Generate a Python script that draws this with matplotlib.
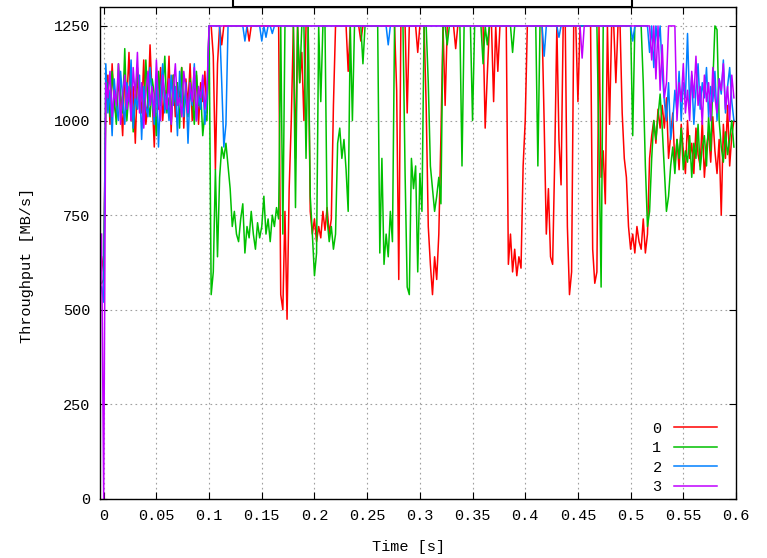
import numpy as np
import matplotlib
matplotlib.use('Agg')
from matplotlib import pyplot as plt
from matplotlib.patches import Rectangle

# sampling grid of the traces (seconds)
T0 = -0.002
STEP = 0.002

# throughput per flow [MB/s], one value per STEP starting at T0
flow0 = [640, 600,
         1080, 1120, 990, 1150, 1040, 1010, 1100, 1060, 960, 1130,
         1050, 1180, 1000, 1090, 940, 1110, 1070, 1020, 1160, 990,
         1040, 1200, 1060, 930, 1100, 1030, 1140, 1000, 1080, 1050,
         1170, 970, 1120, 1010, 1090, 1060, 1140, 980, 1110, 1040,
         1150, 1000, 1070, 1120, 990, 1100, 1050, 1130, 1020,
         1250, 1250, 1170, 870, 1150, 1250, 1200] + [1250] * 12 + [1210] + [1250] * 14 + \
        [540, 500, 760, 475, 820, 1000,
         1250, 900, 1250, 1100, 1180, 1000, 1250, 1250,
         760, 700, 740, 680, 720, 690, 760, 710, 770, 700, 740, 1040] + \
        [1250] * 6 + [1130] + [1250] * 5 + [1210] + [1250] * 16 + [1080, 580] + \
        [1250] * 3 + [1020] + [1250] * 4 + [1180] + [1250] * 3 + \
        [1040, 720, 620, 540, 640, 580, 700, 960, 1250, 1040] + [1250] * 4 + [1190] + \
        [1250] * 13 + [980, 1120, 1250, 1250, 1050, 1250, 1130] + [1250] * 4 + \
        [620, 700, 600, 660, 590, 640, 610, 880, 1000, 1250] + [1250] * 7 + \
        [990, 700, 820, 640, 620, 900, 1250, 950, 830, 1250, 1250, 720, 540, 600,
         1250, 1250, 1050] + [1250] * 6 + \
        [660, 570, 600, 1250, 850, 920, 780, 1250, 990, 1250, 1250, 1100,
         1250, 1250, 1020, 900, 850, 720, 660, 700, 650, 720, 680, 660, 740, 650, 700,
         900, 960, 1000, 940, 1030, 980, 1040, 980, 1060,
         900, 960, 1020, 880, 950, 870, 990, 920, 860, 1000, 900, 940, 860, 980, 910, 880,
         1000, 850, 930, 970, 890, 1010, 920, 860, 950, 750, 990, 900, 1040, 880, 960, 1000]

flow1 = [570, 580,
         1040, 1100, 1010, 1130, 1060, 990, 1150, 1070, 1020, 1190,
         1000, 1080, 1120, 970, 1060, 1140, 1030, 1090, 1000, 1160,
         1050, 1010, 1110, 1070, 960, 1130, 1040, 1080, 1170, 1020,
         1060, 990, 1120, 1050, 1100, 980, 1140, 1030, 1070, 1010,
         1110, 1060, 990, 1130, 1040, 1080, 960, 1020, 1000,
         1250, 540, 600, 870, 640, 850, 930, 900, 940, 880, 820, 720, 760, 700, 680,
         740, 780, 650, 720, 690, 760, 700, 660, 730, 690, 720, 800, 700, 740, 680,
         750, 720, 770, 740,
         1250, 700, 1250, 1250, 1250, 1250, 1250, 770, 1250, 1100, 1250, 1250, 900,
         1250, 800, 700, 590, 650, 1250, 1050, 1250, 1250, 740, 680, 720, 660, 700,
         940, 980, 900, 950, 870, 760, 1250, 1000, 1250, 1250] + \
        [1250] * 2 + [1150] + [1250] * 7 + [650, 900, 620, 700, 640, 760, 680] + [1250] * 5 + \
        [860, 560, 540, 900, 820, 880, 600, 860, 760, 1250, 1250, 1100, 880, 820, 760,
         800, 850, 780] + [1250] * 2 + [1200] + [1250] * 6 + [880] + [1250] * 4 + [1000] + \
        [1250] * 4 + [1150, 1250, 1200] + [1250] * 11 + [1180] + [1250] * 11 + [880] + \
        [1250] * 28 + [930, 560] + [1250] * 14 + [960] + [1250] * 4 + \
        [1100, 880, 720, 760, 900, 1000, 950, 1010, 1070, 980, 870, 760, 800,
         880, 930, 860, 950, 900, 980, 870, 920, 890, 960, 850, 940, 900, 990, 870, 930,
         960, 880, 1010, 920, 1100, 1250, 1240, 1000, 930, 890, 970, 910, 950, 1000, 930]

flow2 = [560, 520,
         1150, 1020, 1080, 960, 1110, 1040, 1000, 1130, 1060, 990,
         1100, 1050, 1160, 980, 1070, 1030, 1120, 950, 1090, 1040,
         1010, 1140, 1060, 990, 1110, 930, 1080, 1150, 1020, 1070,
         1000, 1120, 1040, 1090, 960, 1130, 1050, 1010, 1100, 940,
         1080, 1040, 1150, 1000, 1070, 1030, 1110, 990, 1060] + \
        [1250] * 6 + [1100, 930, 990] + [1250] * 8 + [1210] + [1250] * 7 + [1210, 1250, 1220] + \
        [1250] * 2 + [1230] + [1250] * 54 + [1200] + [1250] * 73 + [1170] + [1250] * 6 + \
        [1220] + [1250] * 34 + [1210] + [1250] * 7 + \
        [1180, 1250, 1140, 1250, 1200, 1250, 1130, 1050, 1000, 1100, 950, 1000,
         1080, 1020, 1130, 1000, 1100, 1060, 1230, 1040, 1120, 990, 1080, 1150, 1030,
         1100, 1060, 1140, 1010, 1090, 1050, 1130, 1000, 1110, 1070, 1160, 1020, 1090,
         1140, 1050, 1000]

flow3 = [700, 0,
         1100, 1060, 1130, 1010, 1080, 1040, 1150, 990, 1070, 1120,
         1030, 1090, 1000, 1140, 1060, 1180, 1020, 1100, 980, 1070,
         1130, 1040, 1090, 1010, 1160, 1050, 1000, 1120, 1070, 1030,
         1110, 990, 1080, 1150, 1040, 1060, 1010, 1130, 1080, 1020,
         1100, 1050, 1140, 1000, 1090, 1060, 1120, 1030, 1080] + \
        [1250] * 177 + [1165] + [1250] * 32 + \
        [1160, 1250, 1110, 1250, 1080, 1200, 1060, 1100] + [1250] * 4 + \
        [1000, 1100, 1050, 1150, 1020, 1080, 1000, 1130, 1060, 1170, 1040, 1090, 990,
         1120, 1050, 1100, 1000, 1140, 1060, 1020, 1110, 1080, 1150, 1030, 1090, 1000,
         1120, 1060]

labels = ['0', '1', '2', '3']
colors = ['#ff0000', '#00c000', '#0080ff', '#c000ff']
xticks = [0, 0.05, 0.1, 0.15, 0.2, 0.25, 0.3, 0.35, 0.4, 0.45, 0.5, 0.55, 0.6]
xtick_labels = ['0', '0.05', '0.1', '0.15', '0.2', '0.25', '0.3', '0.35', '0.4',
                '0.45', '0.5', '0.55', '0.6']
yticks = [0, 250, 500, 750, 1000, 1250]

plt.rcParams['font.family'] = ['Liberation Mono', 'DejaVu Sans Mono']

fig = plt.figure(figsize=(7.67, 5.58), dpi=100)
ax = fig.add_axes([100 / 767, 1 - 499 / 558, 636 / 767, 492 / 558])

for vals, color, lab in zip([flow0, flow1, flow2, flow3], colors, labels):
    t = T0 + STEP * np.arange(len(vals))
    ax.plot(t, vals, color=color, lw=1.1, label=lab)

ax.set_xlim(-0.0035, 0.6)
ax.set_ylim(0, 1300)
ax.set_xticks(xticks)
ax.set_xticklabels(xtick_labels)
ax.set_yticks(yticks)
ax.grid(True, color='#a0a0a0', linestyle=(0, (1.5, 3)), lw=0.8)
ax.tick_params(direction='in', top=True, right=True, length=5, labelsize=11, pad=7)
for sp in ax.spines.values():
    sp.set_linewidth(1.0)

fig.text(27 / 767, 1 - 265 / 558, 'Throughput [MB/s]', rotation=90,
         ha='center', va='center', fontsize=11)
fig.text(408 / 767, 1 - 547 / 558, 'Time [s]', ha='center', va='center', fontsize=11)

ax.legend(loc='lower right', bbox_to_anchor=(0.991, -0.018), frameon=False, markerfirst=False,
          fontsize=11, handlelength=2.8, labelspacing=0.36, handletextpad=0.8)

# box cut off at the top edge of the picture
fig.add_artist(Rectangle((233 / 767, 1 - 6.5 / 558), (632 - 233) / 767, 0.05,
                         transform=fig.transFigure, fill=False, lw=1.5, ec='black',
                         clip_on=False))

fig.savefig('out.png', dpi=100)
